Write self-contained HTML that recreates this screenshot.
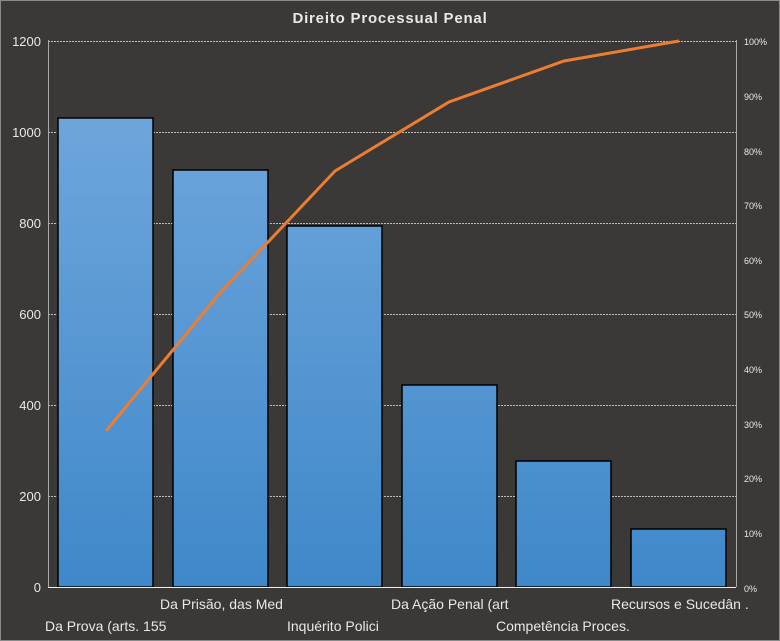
<!DOCTYPE html>
<html><head><meta charset="utf-8"><style>
html,body{margin:0;padding:0;background:#3a3937;}
svg{display:block}
text{font-family:"Liberation Sans",sans-serif;fill:#e8e8e8}
</style></head><body>
<svg width="780" height="641" viewBox="0 0 780 641">
<defs><linearGradient id="g" gradientUnits="userSpaceOnUse" x1="0" y1="110" x2="0" y2="587">
<stop offset="0" stop-color="#6fa6dc"/><stop offset="1" stop-color="#3f88c9"/></linearGradient></defs>
<rect x="0.5" y="0.5" width="779" height="640" fill="#3a3937" stroke="#8a8a8a"/>
<text x="390" y="23" text-anchor="middle" font-size="15" font-weight="bold" letter-spacing="0.8">Direito  Processual  Penal</text>
<g stroke="#bdbdbd" stroke-width="1" stroke-dasharray="2,1">
<line x1="48" y1="41.5" x2="736" y2="41.5"/><line x1="48" y1="132.5" x2="736" y2="132.5"/>
<line x1="48" y1="223.5" x2="736" y2="223.5"/><line x1="48" y1="314.5" x2="736" y2="314.5"/>
<line x1="48" y1="405.5" x2="736" y2="405.5"/><line x1="48" y1="496.5" x2="736" y2="496.5"/>
</g>
<line x1="48.5" y1="40" x2="48.5" y2="587" stroke="#aaa"/>
<line x1="736.5" y1="40" x2="736.5" y2="587" stroke="#aaa"/>
<g fill="url(#g)" stroke="#000" stroke-width="1.5">
<rect x="58" y="118" width="95" height="469"/>
<rect x="173" y="170" width="95" height="417"/>
<rect x="287" y="226" width="95" height="361"/>
<rect x="402" y="385" width="95" height="202"/>
<rect x="516" y="461" width="95" height="126"/>
<rect x="631" y="529" width="95" height="58"/>
</g>
<line x1="48" y1="587.5" x2="736" y2="587.5" stroke="#eee"/>
<polyline points="106,431 220,293 335,171 449,102 564,61 679,41" fill="none" stroke="#ed7d31" stroke-width="3"/>
<g font-size="13" text-anchor="end">
<text x="41" y="46">1200</text><text x="41" y="137">1000</text><text x="41" y="228">800</text>
<text x="41" y="319">600</text><text x="41" y="410">400</text><text x="41" y="501">200</text><text x="41" y="592">0</text>
</g>
<g font-size="9">
<text x="744" y="45">100%</text><text x="744" y="100">90%</text><text x="744" y="155">80%</text>
<text x="744" y="209">70%</text><text x="744" y="264">60%</text><text x="744" y="318">50%</text>
<text x="744" y="373">40%</text><text x="744" y="428">30%</text><text x="744" y="482">20%</text>
<text x="744" y="537">10%</text><text x="744" y="592">0%</text>
</g>
<g font-size="14">
<text x="45" y="631">Da Prova  (arts. 155</text>
<text x="160" y="609">Da Prisão, das Med</text>
<text x="287" y="631">Inquérito  Polici</text>
<text x="391" y="609">Da Ação Penal (art</text>
<text x="496" y="631">Competência Proces.</text>
<text x="611" y="609">Recursos e Sucedân  .</text>
</g>
</svg>
</body></html>
